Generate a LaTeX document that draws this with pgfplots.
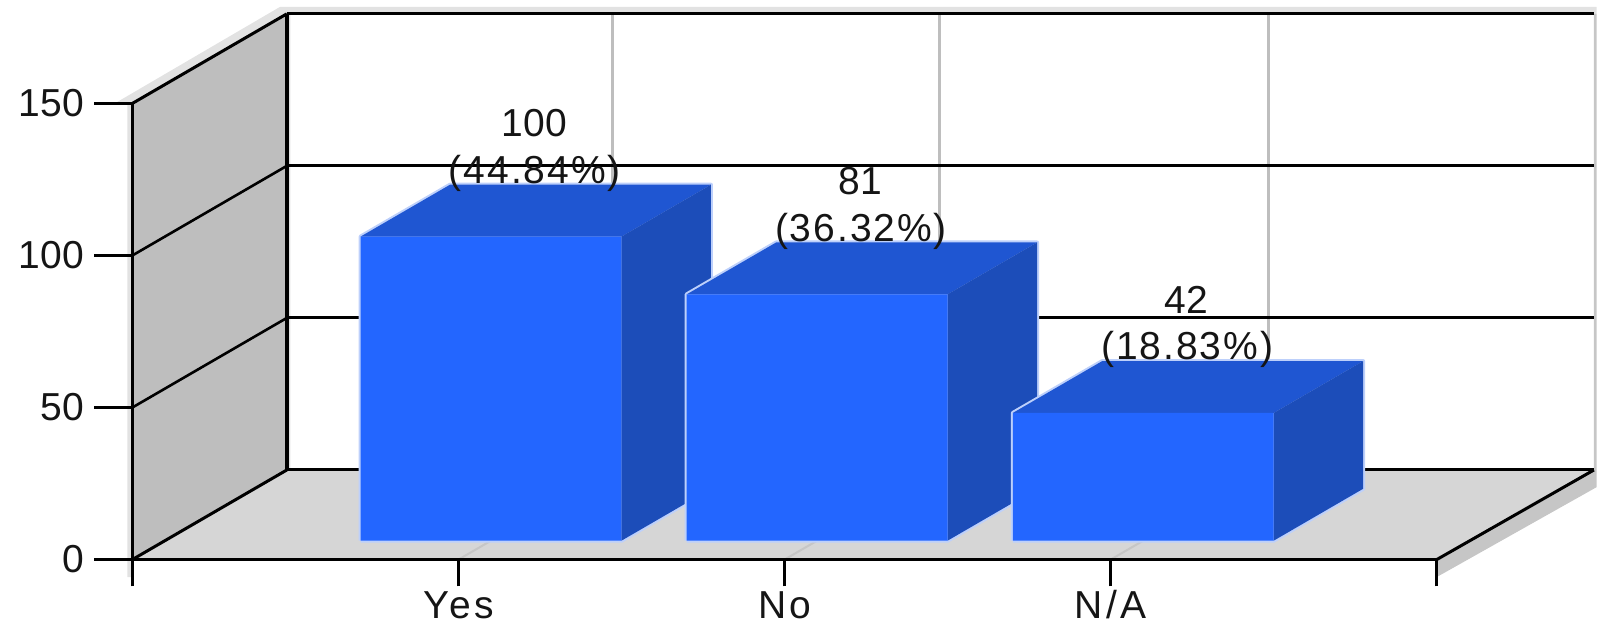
\documentclass[border=0pt]{standalone}
\usepackage{pgfplots}
\usepackage{pgfplotstable}
\usepackage{fontspec}
\setmainfont{Liberation Sans}
\newfontfamily\spacedfont[LetterSpace=5]{Liberation Sans}
\newfontfamily\widefont[LetterSpace=9]{Liberation Sans}
\pgfplotsset{compat=1.18}

\definecolor{barfront}{HTML}{2366FF}
\definecolor{bartop}{HTML}{1F56D2}
\definecolor{barside}{HTML}{1C4DB9}
\definecolor{barhalo}{HTML}{BDD0FB}
\definecolor{wall}{HTML}{BEBEBE}
\definecolor{floorgrey}{HTML}{D6D6D6}
\definecolor{rimlight}{HTML}{E2E2E2}
\definecolor{rimdark}{HTML}{C6C6C6}
\definecolor{inktext}{HTML}{151515}

% Unit cube faces: u across the bar, d into the depth, h up the bar.
\pgfplotstableread{
u d h
0 0.21 0
1 0.21 0
1 0.21 1
0 0.21 1
0 0.21 0
}\facefront
\pgfplotstableread{
u d h
0 0.21 1
1 0.21 1
1 0.79 1
0 0.79 1
0 0.21 1
}\facetop
\pgfplotstableread{
u d h
1 0.21 0
1 0.21 1
1 0.79 1
1 0.79 0
1 0.21 0
}\faceside
\pgfplotstableread{
u d h
0 0.21 0
1 0.21 0
1 0.79 0
1 0.79 1
0 0.79 1
0 0.21 1
0 0.21 0
}\facehalo

% Depth vector of the box, in data units.
\def\depthx{0.4732}
\def\depthy{29.43}

% #1 category position, #2 bar value
\newcommand{\cubeface}[4]{%
  \addplot[#3] table[
    x expr=#1-0.4+0.8*\thisrow{u}+\depthx*\thisrow{d},
    y expr=#2*\thisrow{h}+\depthy*\thisrow{d}]{#4};}
\newcommand{\barcube}[2]{%
  \cubeface{#1}{#2}{draw=barhalo,line width=2pt,line join=round,fill=barhalo}{\facehalo}
  \cubeface{#1}{#2}{draw=none,fill=bartop}{\facetop}
  \cubeface{#1}{#2}{draw=none,fill=barside}{\faceside}
  \cubeface{#1}{#2}{draw=none,fill=barfront}{\facefront}}

\newcommand{\barlabel}[3]{%
  \node[anchor=base,inner sep=0pt,text=inktext,font=\fontsize{19.5}{23}\selectfont]
    at (axis cs:#1+0.232,#2+39) {#2};
  \node[anchor=base,inner sep=0pt,text=inktext,font=\spacedfont\fontsize{19.5}{23}\selectfont]
    at (axis cs:#1+0.234,#2+23.6) {(#3\%)};}

\begin{document}
\begin{tikzpicture}
\path[use as bounding box,clip] (0,0) rectangle (798.5pt,312pt);
\begin{axis}[
  at={(66.25pt,32.25pt)}, anchor=south west,
  x=163.05pt, y=1.5205pt,
  xmin=0, xmax=4, ymin=0, ymax=150,
  clip=false, axis on top,
  axis x line=bottom, axis y line=left,
  axis line style={-,black,line width=1.5pt},
  xtick={0,1,2,3,4},
  xticklabels={,Yes,No,N/A,},
  ytick={0,50,100,150},
  tick align=outside,
  xtick style={black,line width=1.5pt,/pgfplots/major tick length=13.5pt},
  ytick style={black,line width=1.5pt,/pgfplots/major tick length=19pt},
  x tick label style={anchor=base,inner sep=0pt,yshift=-25pt,font=\widefont\fontsize{19.5}{23}\selectfont},
  y tick label style={anchor=east,inner sep=0pt,xshift=-19.75pt,font=\fontsize{19.5}{23}\selectfont},
  tick label style={text=inktext},
  /pgf/number format/assume math mode=true,
]
% light rims outside the box
\addplot[draw=none,fill=rimlight] coordinates {(-0.054,150) (0.452,181.7) (4.49,181.7) (4.49,179.4) (0.4732,179.4) (0,150) (-0.054,150)};
\addplot[draw=none,fill=rimlight] coordinates {(-0.016,-5.8) (0,-5.8) (0,150) (-0.016,150) (-0.016,-5.8)};
\addplot[draw=none,fill=rimlight] coordinates {(0.4732,29.43) (0.484,29.43) (0.484,179.43) (0.4732,179.43) (0.4732,29.43)};
\addplot[draw=none,fill=rimdark] coordinates {(4,0) (4,-5.75) (4.49,23.8) (4.49,179.43) (4.4815,179.43) (4.4815,29.43) (4,0)};
% walls and floor
\addplot[draw=none,fill=wall] coordinates {(0,0) (0.4732,29.43) (0.4732,179.43) (0,150) (0,0)};
\addplot[draw=none,fill=floorgrey] coordinates {(0,0) (4,0) (4.4815,29.43) (0.4732,29.43) (0,0)};
% faint floor guides below the bars
\addplot[rimdark,line width=1pt] coordinates {(1,0) (1.4732,29.43)};
\addplot[rimdark,line width=1pt] coordinates {(2,0) (2.4732,29.43)};
\addplot[rimdark,line width=1pt] coordinates {(3,0) (3.4732,29.43)};
% vertical guides on the back wall
\addplot[wall,line width=1.5pt] coordinates {(1.4732,29.43) (1.4732,179.43)};
\addplot[wall,line width=1.5pt] coordinates {(2.4732,29.43) (2.4732,179.43)};
\addplot[wall,line width=1.5pt] coordinates {(3.485,29.43) (3.485,179.43)};
% horizontal guides on the back wall
\addplot[black,line width=1.5pt] coordinates {(0.4732,29.43) (4.4815,29.43)};
\addplot[black,line width=1.5pt] coordinates {(0.4732,79.43) (4.4815,79.43)};
\addplot[black,line width=1.5pt] coordinates {(0.4732,129.43) (4.4815,129.43)};
\addplot[black,line width=1.5pt] coordinates {(0.4732,179.43) (4.4815,179.43)};
% diagonals on the side wall and the floor edge
\addplot[black,line width=1.5pt] coordinates {(0,0) (0.4732,29.43)};
\addplot[black,line width=1.3pt] coordinates {(0,50) (0.4732,79.43)};
\addplot[black,line width=1.3pt] coordinates {(0,100) (0.4732,129.43)};
\addplot[black,line width=1.5pt] coordinates {(0,150) (0.4732,179.43)};
\addplot[black,line width=1.5pt] coordinates {(4,0) (4.4815,29.43)};
\addplot[black,line width=2pt] coordinates {(0.4732,29.43) (0.4732,179.43)};
% bars
\barcube{1}{100}
\barcube{2}{81}
\barcube{3}{42}
% value labels
\barlabel{1}{100}{44.84}
\barlabel{2}{81}{36.32}
\barlabel{3}{42}{18.83}
\end{axis}
\end{tikzpicture}
\end{document}
